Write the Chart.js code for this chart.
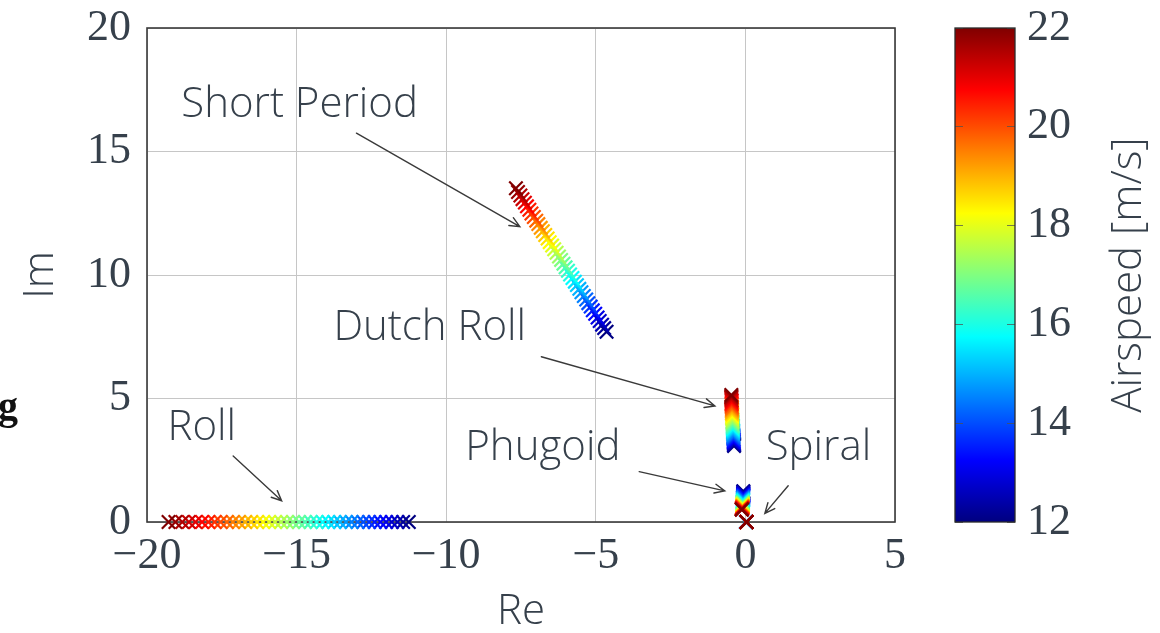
<!DOCTYPE html>
<html>
<head>
<meta charset="utf-8">
<script src="https://cdn.jsdelivr.net/npm/chart.js@4.4.1/dist/chart.umd.min.js"></script>
<style>
  html, body { margin: 0; padding: 0; background: #ffffff; }
  #wrap { position: relative; width: 1160px; height: 633px; overflow: hidden; }
  #wrap canvas { position: absolute; left: 0; top: 0; }
</style>
</head>
<body>
<div id="wrap">
  <canvas id="poles" width="1160" height="633"></canvas>
  <canvas id="cbar" width="1160" height="633"></canvas>
</div>
<script>
// Airspeed sweep [m/s]
const airspeed = [12, 12.25, 12.5, 12.75, 13, 13.25, 13.5, 13.75, 14, 14.25,
  14.5, 14.75, 15, 15.25, 15.5, 15.75, 16, 16.25, 16.5, 16.75,
  17, 17.25, 17.5, 17.75, 18, 18.25, 18.5, 18.75, 19, 19.25,
  19.5, 19.75, 20, 20.25, 20.5, 20.75, 21, 21.25, 21.5, 21.75, 22];

// Roll subsidence (real pole)
const rollRe = [-11.25, -11.44, -11.63, -11.82, -12.01, -12.20, -12.39, -12.58, -12.77, -12.96,
  -13.16, -13.35, -13.55, -13.74, -13.94, -14.13, -14.33, -14.53, -14.72, -14.92,
  -15.12, -15.32, -15.52, -15.72, -15.92, -16.12, -16.32, -16.52, -16.72, -16.93,
  -17.13, -17.33, -17.54, -17.74, -17.95, -18.16, -18.38, -18.60, -18.82, -19.05, -19.28];
const rollIm = [0, 0, 0, 0, 0, 0, 0, 0, 0, 0, 0, 0, 0, 0, 0, 0, 0, 0, 0, 0,
  0, 0, 0, 0, 0, 0, 0, 0, 0, 0, 0, 0, 0, 0, 0, 0, 0, 0, 0, 0, 0];

// Short period
const spRe = [-4.64, -4.72, -4.79, -4.87, -4.94, -5.02, -5.10, -5.17, -5.25, -5.32,
  -5.40, -5.48, -5.55, -5.63, -5.70, -5.78, -5.86, -5.93, -6.01, -6.08,
  -6.16, -6.23, -6.31, -6.39, -6.46, -6.54, -6.61, -6.69, -6.77, -6.84,
  -6.92, -6.99, -7.07, -7.15, -7.22, -7.30, -7.37, -7.45, -7.52, -7.60, -7.67];
const spIm = [7.70, 7.85, 7.99, 8.14, 8.28, 8.43, 8.57, 8.72, 8.86, 9.01,
  9.15, 9.30, 9.44, 9.59, 9.73, 9.88, 10.02, 10.17, 10.31, 10.46,
  10.61, 10.75, 10.90, 11.04, 11.19, 11.33, 11.48, 11.62, 11.77, 11.91,
  12.06, 12.20, 12.35, 12.49, 12.64, 12.78, 12.93, 13.07, 13.22, 13.36, 13.51];

// Dutch roll
const drRe = [-0.38, -0.38, -0.38, -0.39, -0.39, -0.39, -0.39, -0.40, -0.40, -0.40,
  -0.40, -0.41, -0.41, -0.41, -0.41, -0.42, -0.42, -0.42, -0.42, -0.43,
  -0.43, -0.43, -0.43, -0.44, -0.44, -0.44, -0.44, -0.45, -0.45, -0.45,
  -0.45, -0.45, -0.46, -0.46, -0.46, -0.46, -0.46, -0.47, -0.47, -0.47, -0.47];
const drIm = [3.08, 3.12, 3.16, 3.20, 3.24, 3.28, 3.33, 3.37, 3.42, 3.46,
  3.51, 3.56, 3.61, 3.66, 3.71, 3.76, 3.81, 3.86, 3.91, 3.97,
  4.02, 4.07, 4.13, 4.18, 4.24, 4.29, 4.35, 4.40, 4.46, 4.52,
  4.57, 4.63, 4.69, 4.75, 4.80, 4.86, 4.92, 4.98, 5.04, 5.09, 5.14];

// Phugoid
const phRe = [-0.07, -0.07, -0.07, -0.07, -0.07, -0.07, -0.07, -0.07, -0.08, -0.08,
  -0.08, -0.08, -0.08, -0.08, -0.08, -0.08, -0.09, -0.09, -0.09, -0.09,
  -0.09, -0.09, -0.09, -0.09, -0.10, -0.10, -0.10, -0.10, -0.10, -0.10,
  -0.10, -0.10, -0.11, -0.11, -0.11, -0.11, -0.11, -0.12, -0.12, -0.12, -0.12];
const phIm = [1.25, 1.22, 1.18, 1.15, 1.12, 1.09, 1.07, 1.04, 1.01, 0.99,
  0.97, 0.94, 0.92, 0.90, 0.88, 0.86, 0.84, 0.82, 0.80, 0.78,
  0.77, 0.75, 0.73, 0.72, 0.70, 0.68, 0.67, 0.66, 0.64, 0.63,
  0.62, 0.60, 0.59, 0.58, 0.57, 0.55, 0.54, 0.53, 0.52, 0.51, 0.50];

// Spiral (real pole near the origin)
const spiralRe = [0.03, 0.03, 0.03, 0.03, 0.03, 0.03, 0.03, 0.03, 0.03, 0.03,
  0.03, 0.03, 0.03, 0.03, 0.03, 0.03, 0.03, 0.03, 0.03, 0.03,
  0.04, 0.04, 0.04, 0.04, 0.04, 0.04, 0.04, 0.04, 0.04, 0.04,
  0.04, 0.04, 0.04, 0.04, 0.04, 0.04, 0.04, 0.04, 0.04, 0.04, 0.04];
const spiralIm = [0, 0, 0, 0, 0, 0, 0, 0, 0, 0, 0, 0, 0, 0, 0, 0, 0, 0, 0, 0,
  0, 0, 0, 0, 0, 0, 0, 0, 0, 0, 0, 0, 0, 0, 0, 0, 0, 0, 0, 0, 0];

// Axis ticks
const reTicks = [-20, -15, -10, -5, 0, 5];
const imTicks = [0, 5, 10, 15, 20];
const speedTicks = [12, 14, 16, 18, 20, 22];

// Mode annotations: label anchor (centre, baseline) and arrow tail/head, in Re/Im units
const modeNames = ['Short Period', 'Dutch Roll', 'Phugoid', 'Spiral', 'Roll'];
const labelRe   = [-14.90, -10.55, -6.77, 2.44, -18.17];
const labelIm   = [16.40, 7.37, 2.51, 2.51, 3.32];
const tailRe    = [-13.00, -6.82, -3.55, 1.43, -17.12];
const tailIm    = [15.74, 6.69, 2.04, 1.47, 2.67];
const headRe    = [-7.54, -1.02, -0.69, 0.65, -15.50];
const headIm    = [11.96, 4.70, 1.26, 0.35, 0.86];

const TEXT = '#36404b';
const SERIF = '"Liberation Serif", "DejaVu Serif", serif';
const SANS = '"Open Sans", "Lato", sans-serif';
const LABEL_SIZE = 42;
const TICK_SIZE = 44;
const speedMin = 12, speedMax = 22;

// classic jet colormap
function jet(v) {
  const t = (v - speedMin) / (speedMax - speedMin);
  const c = x => Math.round(255 * Math.max(0, Math.min(1, x)));
  return 'rgb(' + c(1.5 - Math.abs(4 * t - 3)) + ',' + c(1.5 - Math.abs(4 * t - 2)) + ',' + c(1.5 - Math.abs(4 * t - 1)) + ')';
}
const speedColors = airspeed.map(jet);

const fmtTick = v => (v < 0 ? '\u2212' + Math.abs(v) : String(v));

// keep tick labels from pushing the plot area inwards
const noOverhang = s => { s.paddingTop = 0; s.paddingBottom = 0; s.paddingLeft = 0; s.paddingRight = 0; };

function modeDataset(label, re, im) {
  return {
    label,
    data: re.map((x, i) => ({ x, y: im[i] })),
    pointStyle: 'crossRot',
    pointRadius: 9.5,
    pointHoverRadius: 9.5,
    pointBorderWidth: 2.2,
    pointBorderColor: speedColors,
    pointBackgroundColor: speedColors,
    showLine: false,
    clip: false
  };
}

// frame around the plot area, drawn above the grid and below the poles
const framePlugin = {
  id: 'frame',
  beforeDatasetsDraw(chart) {
    const { ctx, chartArea: a } = chart;
    ctx.save();
    ctx.strokeStyle = '#3a3a3a';
    ctx.lineWidth = 1.6;
    ctx.strokeRect(a.left, a.top, a.right - a.left, a.bottom - a.top);
    ctx.restore();
  }
};

// mode names with arrows pointing to the pole branches
const modeLabelPlugin = {
  id: 'modeLabels',
  afterDatasetsDraw(chart) {
    const { ctx, scales: { x, y } } = chart;
    ctx.save();
    ctx.fillStyle = TEXT;
    ctx.font = '300 ' + LABEL_SIZE + 'px ' + SANS;
    ctx.textAlign = 'center';
    ctx.textBaseline = 'alphabetic';
    modeNames.forEach((name, i) => {
      ctx.fillText(name, x.getPixelForValue(labelRe[i]), y.getPixelForValue(labelIm[i]));
    });
    ctx.strokeStyle = '#3a3a3a';
    ctx.lineWidth = 1.4;
    ctx.lineCap = 'round';
    modeNames.forEach((name, i) => {
      const x0 = x.getPixelForValue(tailRe[i]), y0 = y.getPixelForValue(tailIm[i]);
      const x1 = x.getPixelForValue(headRe[i]), y1 = y.getPixelForValue(headIm[i]);
      const ang = Math.atan2(y1 - y0, x1 - x0);
      const len = 11, spread = 0.42;
      ctx.beginPath();
      ctx.moveTo(x0, y0);
      ctx.lineTo(x1, y1);
      ctx.moveTo(x1 - len * Math.cos(ang - spread), y1 - len * Math.sin(ang - spread));
      ctx.lineTo(x1, y1);
      ctx.lineTo(x1 - len * Math.cos(ang + spread), y1 - len * Math.sin(ang + spread));
      ctx.stroke();
    });
    ctx.restore();
  },
  afterDraw(chart) {
    const { ctx } = chart;
    ctx.save();
    ctx.fillStyle = '#111111';
    ctx.font = 'bold 40px ' + SERIF;
    ctx.textAlign = 'left';
    ctx.textBaseline = 'alphabetic';
    ctx.fillText('g', -2, 419);
    ctx.restore();
  }
};

new Chart(document.getElementById('poles'), {
  type: 'scatter',
  data: {
    datasets: [
      modeDataset('Roll', rollRe, rollIm),
      modeDataset('Short Period', spRe, spIm),
      modeDataset('Dutch Roll', drRe, drIm),
      modeDataset('Phugoid', phRe, phIm),
      modeDataset('Spiral', spiralRe, spiralIm)
    ]
  },
  options: {
    responsive: false,
    animation: false,
    devicePixelRatio: 1,
    events: [],
    layout: { padding: { left: 0, right: 265, top: 28, bottom: 0 } },
    plugins: { legend: { display: false }, tooltip: { enabled: false } },
    scales: {
      x: {
        type: 'linear', min: -20, max: 5,
        afterBuildTicks: s => { s.ticks = reTicks.map(v => ({ value: v })); },
        afterFit: s => { s.height = 111; noOverhang(s); },
        grid: { color: '#c6c6c6', lineWidth: 1, drawTicks: false },
        border: { display: false },
        ticks: { padding: 8, autoSkip: false, maxRotation: 0, color: TEXT,
                 font: { family: SERIF, size: TICK_SIZE }, callback: v => fmtTick(v) },
        title: { display: true, text: 'Re', color: TEXT,
                 font: { family: SANS, size: LABEL_SIZE, weight: 300, lineHeight: 1 },
                 padding: { top: 0, bottom: 0 } }
      },
      y: {
        type: 'linear', min: 0, max: 20,
        afterBuildTicks: s => { s.ticks = imTicks.map(v => ({ value: v })); },
        afterFit: s => { s.width = 147; noOverhang(s); },
        grid: { color: '#c6c6c6', lineWidth: 1, drawTicks: false },
        border: { display: false },
        ticks: { padding: 16, autoSkip: false, color: TEXT,
                 font: { family: SERIF, size: TICK_SIZE }, callback: v => fmtTick(v) },
        title: { display: true, text: 'Im', color: TEXT,
                 font: { family: SANS, size: LABEL_SIZE, weight: 300, lineHeight: 1 },
                 padding: { top: 20, bottom: 0 } }
      }
    }
  },
  plugins: [framePlugin, modeLabelPlugin]
});

// colour bar for the airspeed
const colorBarPlugin = {
  id: 'colorBar',
  beforeDraw(chart) {
    const { ctx, chartArea: a, scales: { y } } = chart;
    const g = ctx.createLinearGradient(0, y.getPixelForValue(speedMin), 0, y.getPixelForValue(speedMax));
    const stops = 40;
    for (let k = 0; k <= stops; k++) {
      g.addColorStop(k / stops, jet(speedMin + (speedMax - speedMin) * k / stops));
    }
    ctx.save();
    ctx.fillStyle = g;
    ctx.fillRect(a.left, a.top, a.right - a.left, a.bottom - a.top);
    ctx.restore();
  },
  afterDraw(chart) {
    const { ctx, chartArea: a } = chart;
    ctx.save();
    ctx.strokeStyle = '#2a2a2a';
    ctx.lineWidth = 1.3;
    ctx.strokeRect(a.left, a.top, a.right - a.left, a.bottom - a.top);
    ctx.translate(1129, (a.top + a.bottom) / 2);
    ctx.rotate(-Math.PI / 2);
    ctx.fillStyle = TEXT;
    ctx.font = '300 ' + LABEL_SIZE + 'px ' + SANS;
    ctx.textAlign = 'center';
    ctx.textBaseline = 'middle';
    ctx.fillText('Airspeed [m/s]', 0, 0);
    ctx.restore();
  }
};

new Chart(document.getElementById('cbar'), {
  type: 'scatter',
  data: { datasets: [] },
  options: {
    responsive: false,
    animation: false,
    devicePixelRatio: 1,
    events: [],
    layout: { padding: { left: 955, right: 0, top: 28, bottom: 111 } },
    plugins: { legend: { display: false }, tooltip: { enabled: false } },
    scales: {
      x: { display: false, min: 0, max: 1 },
      y: {
        position: 'right', min: speedMin, max: speedMax,
        afterBuildTicks: s => { s.ticks = speedTicks.map(v => ({ value: v })); },
        afterFit: s => { s.width = 145; noOverhang(s); },
        grid: { color: 'rgba(80,80,80,0.75)', lineWidth: 1, drawTicks: false },
        border: { display: false, dash: [8, 44] },
        ticks: { padding: 12, autoSkip: false, color: TEXT,
                 font: { family: SERIF, size: TICK_SIZE }, callback: v => String(v) }
      }
    }
  },
  plugins: [colorBarPlugin]
});
</script>
</body>
</html>
